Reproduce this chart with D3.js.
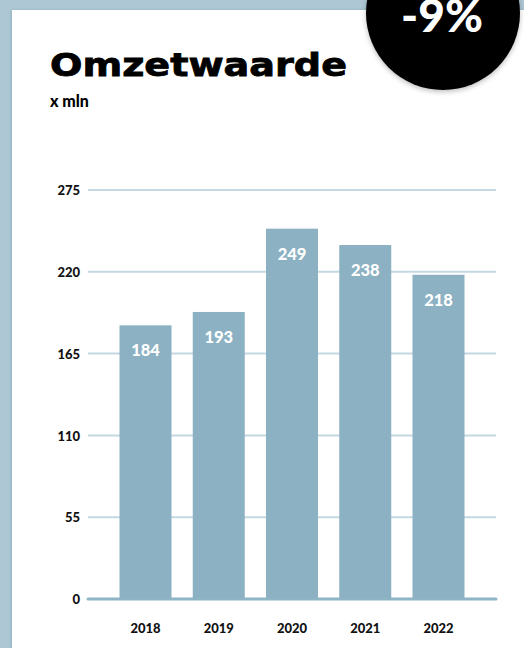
<!DOCTYPE html>
<html>
<head>
<meta charset="utf-8">
<script src="https://cdn.jsdelivr.net/npm/d3@7"></script>
<style>
  html, body { margin: 0; padding: 0; background: #adc8d4; overflow: hidden; }
  svg { display: block; }
</style>
</head>
<body>
<svg id="chart" width="524" height="648"></svg>
<script>
// Omzetwaarde per jaar, in miljoenen
const years = ["2018", "2019", "2020", "2021", "2022"];
const values = [184, 193, 249, 238, 218];
const yTicks = [0, 55, 110, 165, 220, 275];
const changeLabel = "-9%";

const W = 524, H = 648;
const svg = d3.select("#chart");

const defs = svg.append("defs");
const sh = defs.append("filter").attr("id", "shadow")
  .attr("x", "-20%").attr("y", "-20%").attr("width", "140%").attr("height", "140%");
sh.append("feDropShadow").attr("dx", 0).attr("dy", 2).attr("stdDeviation", 2.5)
  .attr("flood-color", "#000").attr("flood-opacity", 0.25);
const cardSh = defs.append("filter").attr("id", "cardShadow")
  .attr("x", "-5%").attr("y", "-5%").attr("width", "110%").attr("height", "110%");
cardSh.append("feDropShadow").attr("dx", -1).attr("dy", 0).attr("stdDeviation", 1.5)
  .attr("flood-color", "#5f8494").attr("flood-opacity", 0.35);

// background + white card
svg.append("rect").attr("width", W).attr("height", H).attr("fill", "#adc8d4");
svg.append("rect").attr("x", 12).attr("y", 10).attr("width", W).attr("height", H)
  .attr("fill", "#ffffff").attr("filter", "url(#cardShadow)");

// scales
const x = d3.scaleBand().domain(years).range([88, 496])
  .paddingInner(0.29).paddingOuter(0.43);
const y = d3.scaleLinear().domain([0, 275]).range([599, 190]);

// gridlines
const grid = svg.append("g");
grid.selectAll("line").data(yTicks.filter(d => d !== 0)).join("line")
  .attr("x1", 88).attr("x2", 496)
  .attr("y1", d => y(d)).attr("y2", d => y(d))
  .attr("stroke", "#c3d8e0").attr("stroke-width", 2);

// bars
svg.append("g").selectAll("rect").data(values).join("rect")
  .attr("x", (d, i) => x(years[i]))
  .attr("y", d => y(d))
  .attr("width", x.bandwidth())
  .attr("height", d => y(0) - y(d))
  .attr("fill", "#8cb1c3");

// baseline
svg.append("line").attr("x1", 88).attr("x2", 496)
  .attr("y1", y(0)).attr("y2", y(0))
  .attr("stroke", "#8fb4c6").attr("stroke-width", 3).attr("stroke-linecap", "round");

const font = "Lato, 'DejaVu Sans', sans-serif";

// value labels inside bars
svg.append("g").selectAll("text").data(values).join("text")
  .attr("x", (d, i) => x(years[i]) + x.bandwidth() / 2)
  .attr("y", d => y(d) + 31)
  .attr("text-anchor", "middle")
  .attr("font-family", font).attr("font-weight", 900).attr("font-size", 16.5)
  .attr("fill", "#ffffff")
  .text(d => d);

// y axis
const yAxis = svg.append("g").attr("transform", "translate(80,0)")
  .call(d3.axisLeft(y).tickValues(yTicks).tickSize(0).tickPadding(0));
yAxis.select(".domain").remove();
yAxis.selectAll("text")
  .attr("font-family", font).attr("font-weight", 900).attr("font-size", 13)
  .attr("fill", "#111").attr("dy", "0.36em");

// x axis
const xAxis = svg.append("g").attr("transform", "translate(0,628)")
  .call(d3.axisBottom(x).tickSize(0).tickPadding(0));
xAxis.select(".domain").remove();
xAxis.selectAll("text")
  .attr("font-family", font).attr("font-weight", 900).attr("font-size", 13)
  .attr("fill", "#111").attr("dy", "0.36em");

// title
svg.append("text").attr("x", 50).attr("y", 76)
  .attr("font-family", "'DejaVu Sans', sans-serif").attr("font-weight", 700)
  .attr("font-size", 32).attr("fill", "#000")
  .attr("stroke", "#000").attr("stroke-width", 0.8)
  .attr("textLength", 297).attr("lengthAdjust", "spacingAndGlyphs")
  .text("Omzetwaarde");
svg.append("text").attr("x", 50).attr("y", 107)
  .attr("font-family", font).attr("font-weight", 900)
  .attr("font-size", 16).attr("fill", "#000")
  .text("x mln");

// change badge
svg.append("circle").attr("cx", 443).attr("cy", 13).attr("r", 77)
  .attr("fill", "#000").attr("filter", "url(#shadow)");
svg.append("text").attr("x", 442).attr("y", 32)
  .attr("text-anchor", "middle")
  .attr("font-family", font).attr("font-weight", 900)
  .attr("font-size", 46).attr("fill", "#fff")
  .text(changeLabel);
</script>
</body>
</html>
